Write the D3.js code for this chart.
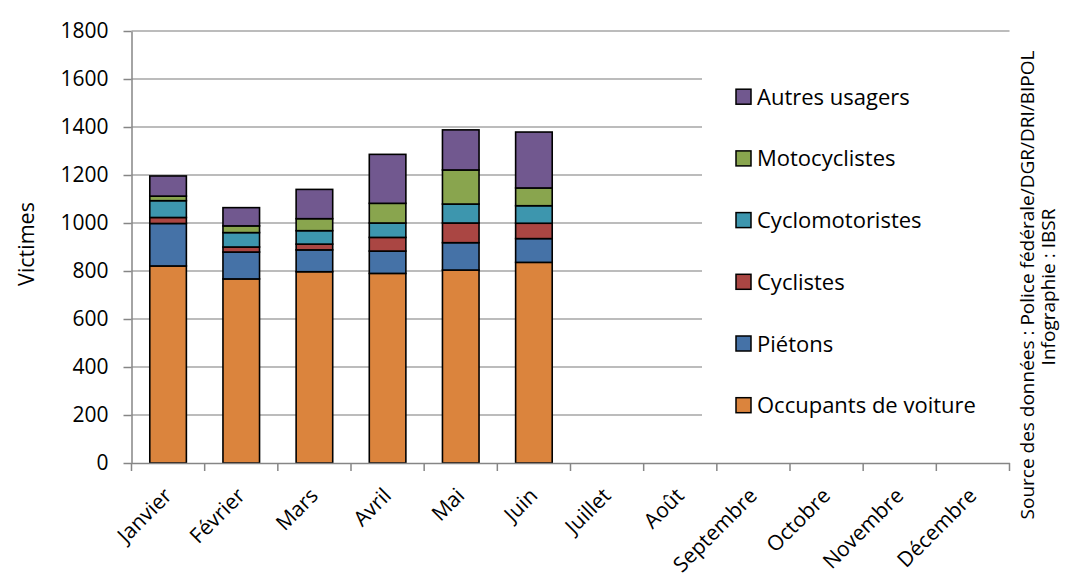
<!DOCTYPE html>
<html><head><meta charset="utf-8">
<script src="https://cdn.jsdelivr.net/npm/d3@7"></script>
<style>body{margin:0;background:#fff}svg{display:block;font-family:"Open Sans",sans-serif}</style>
</head><body><svg id="c" width="1065" height="586"></svg>
<script>
const months = ["Janvier","Février","Mars","Avril","Mai","Juin","Juillet","Août","Septembre","Octobre","Novembre","Décembre"];
const seriesNames = ["Occupants de voiture","Piétons","Cyclistes","Cyclomotoristes","Motocyclistes","Autres usagers"];
const seriesColors = ["#DB843D","#4572A7","#AA4643","#3D96AE","#89A54E","#71588F"];
const occupants = [821,767,797,790,804,836];
const pietons = [177,112,91,93,114,99];
const cyclistes = [25,21,24,57,82,64];
const cyclomotoristes = [70,60,56,60,79,73];
const motocyclistes = [19,28,50,82,142,74];
const autres = [84,76,122,204,167,233];
const yTicks = [0,200,400,600,800,1000,1200,1400,1600,1800];

const svg = d3.select("#c");
const x = d3.scaleBand().domain(months).range([131.5,1009.5]).paddingInner(0.5).paddingOuter(0.25);
const y = d3.scaleLinear().domain([0,1800]).range([463,31]);

// gridlines
svg.append("g").selectAll("line").data(yTicks.slice(1)).join("line")
  .attr("x1",131.5).attr("x2",1009.5).attr("y1",d=>y(d)).attr("y2",d=>y(d))
  .attr("stroke","#A6A6A6").attr("stroke-width",1.5);

// legend background covering gridlines
svg.append("rect").attr("x",702).attr("y",38).attr("width",310).attr("height",418).attr("fill","#fff");

// stacked bars
const table = months.slice(0,6).map((m,i)=>({month:m, s0:occupants[i], s1:pietons[i], s2:cyclistes[i], s3:cyclomotoristes[i], s4:motocyclistes[i], s5:autres[i]}));
const stack = d3.stack().keys(["s0","s1","s2","s3","s4","s5"])(table);
svg.append("g").selectAll("g").data(stack).join("g")
  .attr("fill",(d,i)=>seriesColors[i])
  .selectAll("rect").data(d=>d).join("rect")
  .attr("x",d=>x(d.data.month)).attr("width",x.bandwidth())
  .attr("y",d=>y(d[1])).attr("height",d=>y(d[0])-y(d[1]))
  .attr("stroke","#000").attr("stroke-width",1.6);

// y axis
const yAxis = svg.append("g").attr("transform","translate(131.5,0)")
  .call(d3.axisLeft(y).tickValues(yTicks).tickFormat(d3.format("d")).tickSize(8).tickPadding(15).tickSizeOuter(0));
yAxis.attr("font-family","Open Sans");
yAxis.select(".domain").attr("stroke","#868686").attr("stroke-width",1.5);
yAxis.selectAll(".tick line").attr("stroke","#868686").attr("stroke-width",1.5);
yAxis.selectAll(".tick text").attr("font-size","21px").attr("fill","#000");

// x axis
const xAxis = svg.append("g").attr("transform","translate(0,463)")
  .call(d3.axisBottom(x).tickSize(0).tickSizeOuter(0));
xAxis.attr("font-family","Open Sans");
xAxis.select(".domain").attr("stroke","#868686").attr("stroke-width",1.5);
xAxis.selectAll(".tick text").remove();
const bounds = x.domain().map(m=>x(m)-x.step()*x.paddingInner()/2);
bounds.push(1009.5);
xAxis.selectAll(".sep").data(bounds).join("line").attr("class","sep")
  .attr("x1",d=>d).attr("x2",d=>d).attr("y1",0).attr("y2",8)
  .attr("stroke","#868686").attr("stroke-width",1.5);
xAxis.selectAll(".lab").data(months).join("text").attr("class","lab")
  .attr("transform",d=>`translate(${x(d)+x.bandwidth()/2+5},${34}) rotate(-45)`)
  .attr("text-anchor","end").attr("font-size","21px").attr("fill","#000")
  .text(d=>d);

// y title
svg.append("text").attr("transform","translate(34,244) rotate(-90)")
  .attr("text-anchor","middle").attr("font-size","21.5px").text("Victimes");

// legend
const leg = svg.append("g").selectAll("g").data(seriesNames.map((n,i)=>({n,i})).reverse()).join("g")
  .attr("transform",(d,k)=>`translate(736,${96.7+k*61.7})`);
leg.append("rect").attr("x",0).attr("y",-7.5).attr("width",15).attr("height",15)
  .attr("fill",d=>seriesColors[d.i]).attr("stroke","#000").attr("stroke-width",1.5);
leg.append("text").attr("x",21).attr("y",8).attr("font-size","22px").text(d=>d.n);

// source
svg.append("text").attr("transform","translate(1034,285) rotate(-90)")
  .attr("text-anchor","middle").attr("font-size","19px").text("Source des données : Police fédérale/DGR/DRI/BIPOL");
svg.append("text").attr("transform","translate(1055,287) rotate(-90)")
  .attr("text-anchor","middle").attr("font-size","19px").text("Infographie : IBSR");
</script></body></html>
